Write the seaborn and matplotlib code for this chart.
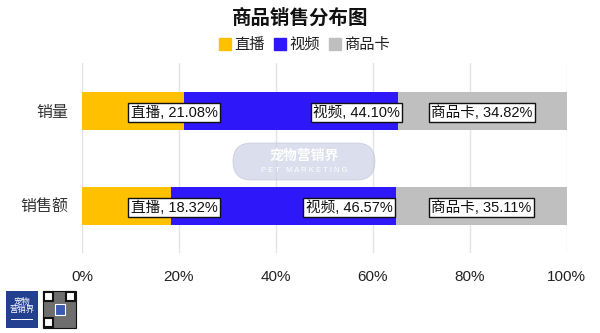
import matplotlib
matplotlib.use("Agg")
import matplotlib.pyplot as plt
import seaborn as sns
import pandas as pd
import numpy as np
from matplotlib.patches import FancyBboxPatch, Rectangle
from matplotlib.lines import Line2D

categories = ["销量", "销售额"]
series = ["直播", "视频", "商品卡"]
live = [21.08, 18.32]
video = [44.10, 46.57]
card = [34.82, 35.11]
colors = ["#FFC000", "#2E17F8", "#BFBFBF"]
xticks = [0, 20, 40, 60, 80, 100]
xtick_labels = ["0%", "20%", "40%", "60%", "80%", "100%"]
title = "商品销售分布图"

sns.set_theme(style="white")
plt.rcParams['font.family'] = ['Liberation Sans', 'Noto Sans CJK SC', 'DejaVu Sans']

fig = plt.figure(figsize=(6, 3.33), dpi=100)
ax = fig.add_axes([82/600, 1-253/333, (566.5-82)/600, 190/333])

vals = np.array([live, video, card])
cum = np.cumsum(vals, axis=0)

# draw stacked bars from the back (total) to the front
for i in range(len(series)-1, -1, -1):
    df = pd.DataFrame({"cat": categories, "val": cum[i]})
    sns.barplot(data=df, x="val", y="cat", color=colors[i], width=0.4,
                saturation=1, ax=ax, orient="h", zorder=2, edgecolor="none")

ax.set_xlim(0, 100)
ax.set_ylim(1.5, -0.5)
ax.set_xticks(xticks)
ax.set_xticklabels(xtick_labels, fontsize=11, color="#222222")
ax.tick_params(axis="x", length=0, pad=12)
ax.tick_params(axis="y", length=0, pad=10, labelsize=11.5, labelcolor="#333333")
ax.set_xlabel("")
ax.set_ylabel("")
for s in ax.spines.values():
    s.set_visible(False)
ax.grid(axis="x", color="#E3E3E3", linewidth=1, zorder=0)
ax.grid(axis="y", visible=False)
ax.set_axisbelow(True)

# data labels
offsets = [None, 13.5, 0.0]
for r in range(len(categories)):
    starts = [0, cum[0][r], cum[1][r]]
    for i, name in enumerate(series):
        center = starts[i] + vals[i][r] / 2
        if i == 0:
            xpos = 19.0
        else:
            xpos = center + offsets[i]
        ax.text(xpos, r + 0.02, f"{name}, {vals[i][r]:.2f}%", ha="center", va="center",
                fontsize=10.5, color="#111111", zorder=5,
                bbox=dict(boxstyle="square,pad=0.15", fc="white", ec="#111111", lw=1))

# title and legend
fig.text(0.5, 1-18/333, title, ha="center", va="center", fontsize=14,
         fontweight="bold", color="#111111")
handles = [Line2D([0], [0], marker="s", linestyle="none", markersize=8,
                  markerfacecolor=c, markeredgecolor=c) for c in colors]
fig.legend(handles, series, loc="center", bbox_to_anchor=(0.508, 1-45/333), ncol=3,
           frameon=False, fontsize=11, handletextpad=0.2, columnspacing=0.6,
           handlelength=0.8, labelcolor="#222222")

# overlay axes in pixel coordinates for watermark and logo
ov = fig.add_axes([0, 0, 1, 1], zorder=10)
ov.set_xlim(0, 600)
ov.set_ylim(333, 0)
ov.axis("off")
ov.patch.set_alpha(0)

pill = FancyBboxPatch((233, 143), 142, 37,
                      boxstyle="round,pad=0,rounding_size=18.5",
                      fc="#CDD1E4", ec="#BFC4DA", lw=0.6, alpha=0.7)
ov.add_patch(pill)
ov.text(304, 156, "宠物营销界", ha="center", va="center", fontsize=10,
        fontweight="bold", color="white")
ov.text(304, 170, "P E T   M A R K E T I N G", ha="center", va="center",
        fontsize=5.5, color="white")

# logo at bottom-left
ov.add_patch(Rectangle((6, 291), 32, 37, fc="#22408F", ec="none"))
ov.text(22, 306, "宠物\n营销界", ha="center", va="center", fontsize=6,
        color="white", linespacing=1.1)
ov.add_patch(Rectangle((22 - 11, 319), 22, 1.2, fc="white", ec="none"))
ov.add_patch(Rectangle((43, 291), 33, 37, fc="#6E6E6E", ec="#111111", lw=0.8))
for (qx, qy) in [(44, 292), (66, 292), (44, 318)]:
    ov.add_patch(Rectangle((qx, qy), 9, 9, fc="white", ec="#111111", lw=1.5))
ov.add_patch(Rectangle((55, 304), 10, 11, fc="#3A5BB0", ec="white", lw=0.8))

fig.savefig("out.png", dpi=100)
